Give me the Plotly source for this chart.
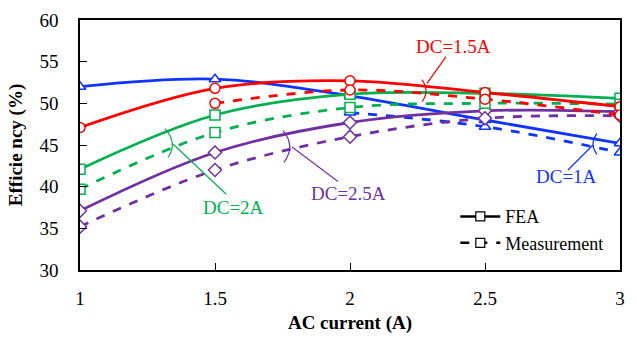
import plotly.graph_objects as go

ac_current = [1, 1.5, 2, 2.5, 3]

fea_dc1 = [52.0, 52.9, 50.9, 48.0, 45.2]
fea_dc15 = [47.1, 51.8, 52.7, 51.3, 49.6]
fea_dc2 = [42.1, 48.6, 51.1, 51.2, 50.6]
fea_dc25 = [37.1, 44.1, 47.7, 49.1, 49.0]

meas_x_dc1 = [2, 2.5, 3]
meas_dc1 = [48.9, 47.2, 44.1]
meas_x_dc15 = [1.5, 2, 2.5, 3]
meas_dc15 = [50.0, 51.6, 50.5, 48.6]
meas_dc2 = [39.7, 46.5, 49.5, 50.0, 49.9]
meas_dc25 = [35.2, 42.0, 46.0, 48.2, 48.5]

x_ticks = [1, 1.5, 2, 2.5, 3]
y_ticks = [30, 35, 40, 45, 50, 55, 60]

BLUE = "#1034FF"
RED = "#FF0000"
GREEN = "#00B050"
PURPLE = "#7030A0"
FONT = "Liberation Serif"

fig = go.Figure()

def add(x, y, color, symbol, dash):
    fig.add_trace(go.Scatter(
        x=x, y=y, mode="lines+markers",
        line=dict(color=color, width=2.8, dash=dash, shape="spline", smoothing=1.0),
        marker=dict(symbol=symbol, size=10, color="white", line=dict(color=color, width=1.5)),
        showlegend=False, hoverinfo="skip"))

add(ac_current, fea_dc1, BLUE, "triangle-up", "solid")
add(meas_x_dc1, meas_dc1, BLUE, "triangle-up", "dash")
add(ac_current, fea_dc25, PURPLE, "diamond", "solid")
add(ac_current, meas_dc25, PURPLE, "diamond", "dash")
add(ac_current, fea_dc2, GREEN, "square", "solid")
add(ac_current, meas_dc2, GREEN, "square", "dash")
add(ac_current, fea_dc15, RED, "circle", "solid")
add(meas_x_dc15, meas_dc15, RED, "circle", "dash")

for name, dash in [("FEA", "solid"), ("Measurement", "dash")]:
    fig.add_trace(go.Scatter(
        x=[None], y=[None], mode="lines+markers", name=name,
        line=dict(color="black", width=2.5, dash=dash),
        marker=dict(symbol="square", size=9, color="white", line=dict(color="black", width=1.2))))

def px2x(px):
    return 1 + (px - 80) / 270.0

def py2y(py):
    return 60 - (py - 10) / (260 / 30.0)

labels = [
    ("DC=1.5A", RED, 453, 38, (427, 76), (446, 48), (422, 72), (430, 84), (422, 95)),
    ("DC=1A", BLUE, 566, 173, (593, 140), (568, 166), (597, 128), (589, 139), (597, 150)),
    ("DC=2A", GREEN, 233, 205, (173, 139), (226, 191), (165, 123), (178, 138), (168, 153)),
    ("DC=2.5A", PURPLE, 348, 190, (292, 142), (338, 178), (283, 125), (296, 141), (284, 158)),
]
for text, color, tx, ty, p0, p1, b0, bc, b1 in labels:
    fig.add_annotation(x=px2x(tx), y=py2y(ty), text=text, showarrow=False,
                       font=dict(family=FONT, size=19, color=color))
    fig.add_shape(type="line", x0=px2x(p0[0]), y0=py2y(p0[1]), x1=px2x(p1[0]), y1=py2y(p1[1]),
                  line=dict(color=color, width=1.2))
    path = "M {},{} Q {},{} {},{}".format(px2x(b0[0]), py2y(b0[1]), px2x(bc[0]), py2y(bc[1]),
                                          px2x(b1[0]), py2y(b1[1]))
    fig.add_shape(type="path", path=path, line=dict(color=color, width=1.2))

fig.update_layout(
    width=637, height=340,
    margin=dict(l=80, r=17, t=10, b=70),
    paper_bgcolor="white", plot_bgcolor="white",
    font=dict(family=FONT, size=18, color="black"),
    showlegend=True,
    legend=dict(x=0.695, y=0.287, xanchor="left", yanchor="top",
                bgcolor="rgba(0,0,0,0)", font=dict(family=FONT, size=18),
                tracegroupgap=0, itemwidth=40),
)
fig.update_xaxes(range=[1, 3], tickvals=x_ticks, ticktext=[str(v) for v in x_ticks],
                 showgrid=False, zeroline=False, showline=True, linecolor="black", linewidth=1.5,
                 mirror=True, ticks="inside", ticklen=7, tickcolor="black",
                 ticklabelstandoff=10, tickfont=dict(family=FONT, size=19),
                 title=dict(text="<b>AC current (A)</b>", font=dict(family=FONT, size=19), standoff=8))
fig.update_yaxes(range=[30, 60], tickvals=y_ticks,
                 showgrid=False, zeroline=False, showline=True, linecolor="black", linewidth=1.5,
                 mirror=True, ticks="inside", ticklen=7, tickcolor="black",
                 ticklabelstandoff=16, tickfont=dict(family=FONT, size=19),
                 title=dict(text="<b>Efficie ncy (%)</b>", font=dict(family=FONT, size=19), standoff=12))

fig.write_html("out.html")
